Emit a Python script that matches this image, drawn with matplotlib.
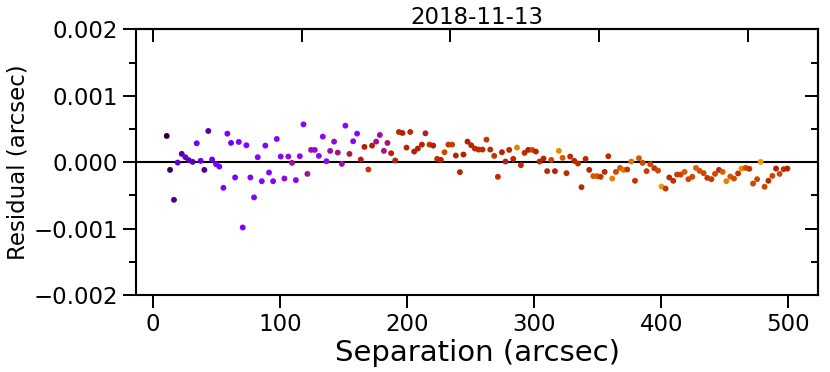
import matplotlib
matplotlib.use("Agg")
import matplotlib.pyplot as plt
from matplotlib.ticker import MultipleLocator

# Separation (arcsec)
sep = [10.8, 13.4, 16.5, 19.4, 22.6, 25.5, 28.1, 31.2, 34.4, 37.5,
       40.4, 43.5, 46.5, 49.6, 52.2, 55.4, 58.5, 61.4, 64.6, 67.5,
       70.6, 73.5, 76.6, 79.5, 82.4, 85.6, 88.4, 91.3, 94.5, 97.4,
       100.5, 103.4, 106.5, 109.4, 112.4, 115.5, 118.4, 121.5,
       124.4, 127.3, 130.5, 133.6, 136.5, 139.4, 142.5, 145.4, 148.6, 151.4,
       154.6, 157.5, 160.6, 163.5, 166.4, 169.5, 172.4, 175.6, 178.5, 181.7,
       184.5, 187.4, 190.6, 193.5, 196.3, 199.5, 202.4, 205.5, 208.4, 211.6,
       214.4, 217.6, 220.5, 223.6, 226.5, 229.4, 232.5, 235.4, 238.3, 241.5,
       244.3, 247.5, 250.4, 253.3,
       256.2, 259.3, 262.4, 265.4, 268.5, 271.4, 274.6, 277.4, 280.3, 283.5,
       286.4, 289.5, 292.4, 295.3, 298.4, 301.3, 304.2, 307.3, 310.2, 313.4,
       316.3, 319.4, 322.3, 325.4, 328.3, 331.5, 334.4, 337.2, 340.4, 343.3,
       346.5, 349.4, 352.2, 355.4, 358.3, 361.4, 364.3, 367.5, 370.3, 373.2,
       376.4, 379.3, 382.4, 385.3, 388.4,
       391.3, 394.5, 397.4, 400.2, 403.4, 406.3, 409.4, 412.4, 415.2, 418.3,
       421.3, 424.4, 427.3, 430.1, 433.3, 436.2, 439.4, 442.3, 445.4, 448.3,
       451.2, 454.3, 457.2, 460.4, 463.2, 466.4, 469.3, 472.2, 475.4, 478.2,
       481.3, 484.3, 487.4, 490.3, 493.1, 496.3, 499.2]

# Residual (arcsec)
resid = [0.000395, -0.000116, -0.000567, -0.000006, 0.000125, 0.000075, 0.00003, 0.000005, 0.000285, 0.00002,
         -0.000116, 0.00047, 0.00004, -0.00003, -0.000066, -0.000386, 0.00043, 0.00029, -0.00023, 0.000305,
         -0.000983, 0.000255, -0.00023, -0.00053, 0.000075, -0.000286, 0.00025, -0.000156, -0.000286, 0.00035,
         0.000085, -0.000246, 0.000085, -0.00001, -0.00027, 0.00009, 0.00057, -0.000176,
         0.000185, 0.000185, 0.000095, 0.000385, 0.000015, 0.00017, 0.00031, 0.000145, -0.000026, 0.00055,
         0.000125, 0.000315, 0.00043, 0.00004, 0.00023, -0.00011, 0.00025, 0.00031, 0.00041, 0.00017,
         0.00029, 0.000135, 0.000025, 0.000455, 0.00044, 0.00022, 0.000455, 0.00016, 0.000205, 0.000265,
         0.000435, 0.000265, 0.00025, 0.00005, 0.000035, 0.00015, 0.000265, 0.000265, 0.0001, -0.00015,
         0.000115, 0.00031, 0.000255, 0.000205,
         0.00019, 0.00019, 0.00034, 0.00019, 0.000095, -0.00022, 0.00015, 0.00001, 0.000185, 0.00005,
         0.00022, -0.000045, 0.00014, 0.000185, 0.000185, 0.00016, 0.00001, 0.000055, -0.000135, 0.000035,
         -0.000135, 0.00017, 0.000065, -0.000165, 0.000085, 0.00002, -0.00002, -0.000376, 0.00005, -0.000116,
         -0.00021, -0.00021, -0.00022, -0.000146, 0.00009, -0.000246, -0.000146, -0.000086, -0.000116, -0.00011,
         0.00001, -0.00028, 0.00006, -0.00001, -0.000135,
         -0.00003, -0.00009, -0.000126, -0.000366, -0.000397, -0.00023, -0.00028, -0.000186, -0.000186, -0.000146,
         -0.000256, -0.00022, -0.000086, -0.00013, -0.000165, -0.000236, -0.000256, -0.000176, -0.000116, -0.000146,
         -0.000286, -0.000216, -0.000246, -0.00017, -0.000096, -0.000086, -0.0001, -0.000322, -0.000256, 0.000005,
         -0.00037, -0.00028, -0.000206, -0.000096, -0.000176, -0.000105, -0.000096]

# Colour variable (0..1 on the gnuplot colormap)
cval = [0.03, 0.06, 0.09, 0.15, 0.11, 0.17, 0.12, 0.12, 0.2, 0.17,
        0.09, 0.11, 0.19, 0.2, 0.22, 0.25, 0.24, 0.19, 0.24, 0.24,
        0.25, 0.25, 0.25, 0.25, 0.26, 0.25, 0.26, 0.26, 0.26, 0.26,
        0.27, 0.33, 0.37, 0.4, 0.27, 0.28, 0.28, 0.4,
        0.38, 0.35, 0.28, 0.3, 0.32, 0.38, 0.36, 0.42, 0.37, 0.28,
        0.47, 0.3, 0.3, 0.48, 0.5, 0.58, 0.5, 0.4, 0.38, 0.41,
        0.43, 0.52, 0.52, 0.55, 0.5, 0.53, 0.55, 0.5, 0.5, 0.52,
        0.47, 0.6, 0.5, 0.57, 0.5, 0.65, 0.6, 0.62, 0.52, 0.52,
        0.5, 0.5, 0.52, 0.55,
        0.55, 0.55, 0.6, 0.55, 0.6, 0.55, 0.5, 0.47, 0.55, 0.55,
        0.8, 0.55, 0.55, 0.5, 0.65, 0.52, 0.52, 0.52, 0.55, 0.65,
        0.52, 0.82, 0.7, 0.55, 0.55, 0.52, 0.55, 0.55, 0.55, 0.52,
        0.7, 0.7, 0.58, 0.55, 0.55, 0.8, 0.65, 0.7, 0.78, 0.6,
        0.78, 0.58, 0.7, 0.65, 0.62,
        0.65, 0.6, 0.65, 0.85, 0.6, 0.55, 0.58, 0.62, 0.62, 0.7,
        0.65, 0.65, 0.72, 0.68, 0.65, 0.6, 0.6, 0.65, 0.55, 0.72,
        0.8, 0.7, 0.66, 0.58, 0.82, 0.65, 0.6, 0.65, 0.65, 0.85,
        0.65, 0.55, 0.65, 0.5, 0.65, 0.58, 0.5]

title = "2018-11-13"

fig = plt.figure(figsize=(8.3, 3.72), dpi=100)
ax = fig.add_axes([0.1635, 0.207, 0.986 - 0.1635, 0.921 - 0.207])

ax.axhline(0, color="black", lw=1.5, zorder=1)
ax.scatter(sep, resid, c=cval, cmap="gnuplot", vmin=0, vmax=1, s=18,
           linewidths=0, zorder=2)

ax.set_ylim(-0.002, 0.002)
ax.xaxis.set_major_locator(MultipleLocator(100))
ax.yaxis.set_major_locator(MultipleLocator(0.001))
ax.yaxis.set_minor_locator(MultipleLocator(0.0005))

for s in ax.spines.values():
    s.set_linewidth(1.5)

ax.tick_params(which="major", length=9.4, width=1.4, labelsize=16.5, direction="out")
ax.tick_params(which="minor", length=5, width=1.4, direction="out")
ax.tick_params(axis="x", which="minor", bottom=False)

# top axis: inward ticks, different scale, no labels
secx = ax.secondary_xaxis("top", functions=(lambda x: x / 1.1705, lambda x: x * 1.1705))
secx.xaxis.set_major_locator(MultipleLocator(100))
secx.tick_params(which="major", direction="in", length=9.2, width=1.4, labeltop=False)
secx.spines["top"].set_linewidth(1.5)

# right axis: inward ticks
secy = ax.secondary_yaxis("right")
secy.yaxis.set_major_locator(MultipleLocator(0.001))
secy.yaxis.set_minor_locator(MultipleLocator(0.0005))
secy.tick_params(which="major", direction="in", length=9.4, width=1.4, labelright=False)
secy.tick_params(which="minor", direction="in", length=5, width=1.4, labelright=False)
secy.spines["right"].set_linewidth(1.5)

ax.set_xlabel("Separation (arcsec)", fontsize=21, labelpad=2)
ax.set_ylabel("Residual (arcsec)", fontsize=16.5, labelpad=2.5)
ax.set_title(title, fontsize=16.5, pad=4)

fig.savefig("out.png", dpi=100)
